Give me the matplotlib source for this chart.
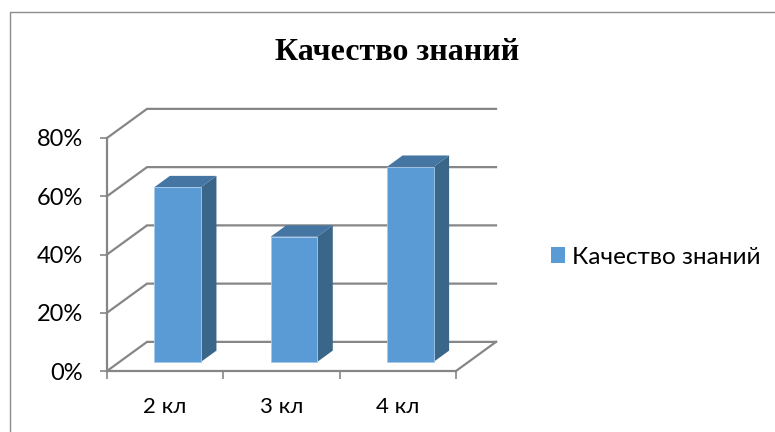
import matplotlib
matplotlib.use("Agg")
import matplotlib.pyplot as plt
from matplotlib.lines import Line2D
from matplotlib.patches import Polygon, Rectangle
from matplotlib.ticker import PercentFormatter

categories = ["2 кл", "3 кл", "4 кл"]
values = [60, 43, 67]
y_ticks = [0, 20, 40, 60, 80]
series_name = "Качество знаний"

GRID = "#868686"
FRONT = "#5b9bd5"
SIDE = "#3a6689"
TOP = "#4475a3"

# fake 3d: how far the back wall sits from the front, in data units
BACK_X = 0.344
BACK_Y = 10
BAR_W = 0.40
BAR_D0 = 0.31
BAR_D1 = 0.70


def project(x, y, d):
    return (x + BACK_X * d, y + BACK_Y * d)


W, H = 775, 432
fig = plt.figure(figsize=(W / 100, H / 100), dpi=100)
# chart frame: only left and top edges show in the picture
fig.add_artist(Line2D([10 / W, 10 / W, 775 / W], [0, 1 - 11.5 / H, 1 - 11.5 / H], color="#8c8c8c", lw=1.0))

ax = fig.add_axes([107 / W, 1 - 371 / H, 349 / W, 233 / H])
ax.set_xlim(0, 3)
ax.set_ylim(0, 80)
ax.patch.set_alpha(0)

# walls and floor
for v in y_ticks:
    ax.plot(*zip(project(0, v, 0), project(0, v, 1), project(3, v, 1)),
            color=GRID, lw=1.6, clip_on=False, zorder=1, solid_joinstyle="miter")
ax.plot(*zip(project(3, 0, 0), project(3, 0, 1)), color=GRID, lw=1.6, clip_on=False, zorder=1)

# bars
for i, v in enumerate(values):
    x0 = i + 0.5 - BAR_W / 2
    x1 = i + 0.5 + BAR_W / 2
    side = [project(x1, 0, BAR_D0), project(x1, 0, BAR_D1), project(x1, v, BAR_D1), project(x1, v, BAR_D0)]
    top = [project(x0, v, BAR_D0), project(x1, v, BAR_D0), project(x1, v, BAR_D1), project(x0, v, BAR_D1)]
    front = [project(x0, 0, BAR_D0), project(x1, 0, BAR_D0), project(x1, v, BAR_D0), project(x0, v, BAR_D0)]
    ax.add_patch(Polygon(side, fc=SIDE, ec="none", clip_on=False, zorder=3))
    ax.add_patch(Polygon(top, fc=TOP, ec="none", clip_on=False, zorder=3))
    ax.add_patch(Polygon(front, fc=FRONT, ec="#a9c9e8", lw=0.6, clip_on=False, zorder=4))

for name in ["top", "right"]:
    ax.spines[name].set_visible(False)
for name in ["left", "bottom"]:
    ax.spines[name].set_color(GRID)
    ax.spines[name].set_linewidth(1.6)

ax.set_yticks(y_ticks)
ax.yaxis.set_major_formatter(PercentFormatter(decimals=0))
ax.set_xticks([0, 1, 2, 3])
ax.set_xticklabels([])
ax.set_xticks([0.5, 1.5, 2.5], labels=categories, minor=True)
ax.tick_params(axis="x", which="major", length=6, width=1.2, color=GRID)
ax.tick_params(axis="x", which="minor", length=0, labelsize=16, pad=19)
ax.tick_params(axis="y", length=5, width=1.2, color=GRID, labelsize=17, pad=12.5)
for t in ax.get_xticklabels(minor=True) + ax.get_yticklabels():
    t.set_fontfamily("Lato")
    t.set_color("black")

fig.text(397 / W, 1 - 53 / H, series_name, family="Liberation Serif", weight="bold", fontsize=23,
         ha="center", va="center")

handle = Rectangle((0, 0), 1, 1, fc=FRONT, ec="none")
fig.legend([handle], [series_name], loc="center left", bbox_to_anchor=(529 / W, 1 - 257 / H), frameon=False,
           prop={"family": "Lato", "size": 17.5}, handlelength=0.6, handleheight=0.6, handletextpad=0.28)

fig.savefig("out.png", dpi=100)
